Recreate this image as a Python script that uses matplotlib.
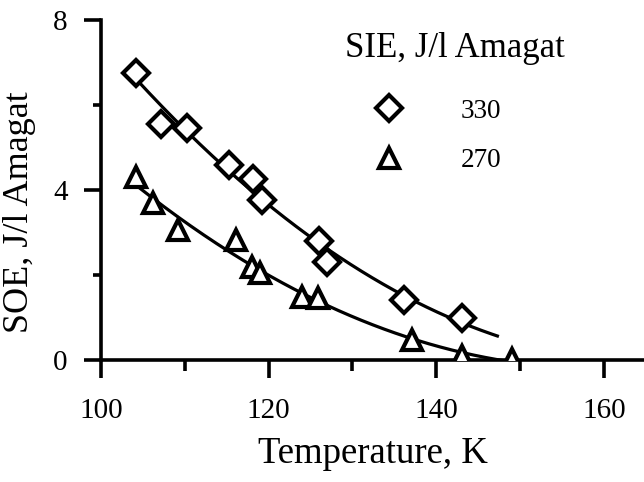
import numpy as np
import matplotlib
matplotlib.use("Agg")
import matplotlib.pyplot as plt

plt.rcParams['font.family'] = ['Liberation Serif', 'DejaVu Serif']

# Data (temperature K, SOE J/l Amagat)
t_330 = [104.2, 107.2, 110.3, 115.3, 118.1, 119.2, 126.0, 127.0, 136.1, 143.1]
soe_330 = [6.75, 5.55, 5.47, 4.59, 4.26, 3.76, 2.80, 2.31, 1.41, 0.99]
t_270 = [104.2, 106.2, 109.2, 116.1, 118.0, 119.0, 124.0, 125.9, 137.1, 143.1, 149.0]
soe_270 = [4.30, 3.69, 3.06, 2.82, 2.20, 2.05, 1.49, 1.45, 0.47, 0.10, 0.02]
fit_range_330 = (104.2, 147.3)
fit_range_270 = (104.4, 149.0)
series_labels = ['330', '270']
legend_title = 'SIE, J/l Amagat'

fig = plt.figure(figsize=(6.44, 4.82), dpi=100)
ax = fig.add_axes([0.157, 0.253, 0.843, 0.7055])

for t, s, rng in [(t_330, soe_330, fit_range_330), (t_270, soe_270, fit_range_270)]:
    c = np.polyfit(t, s, 2)
    xx = np.linspace(rng[0], rng[1], 200)
    ax.plot(xx, np.polyval(c, xx), color='black', lw=2.3, zorder=2)

ax.plot(t_330, soe_330, linestyle='none', marker='D', ms=13, mfc='white',
        mec='black', mew=3.0, label=series_labels[0], zorder=3)
ax.plot(t_270, soe_270, linestyle='none', marker='^', ms=15, mfc='white',
        mec='black', mew=3.0, label=series_labels[1], zorder=3)

ax.set_xlim(100, 164.8)
ax.set_ylim(0, 8)
ax.set_xticks([100, 120, 140, 160])
ax.set_xticks([110, 130, 150], minor=True)
ax.set_yticks([0, 4, 8])
ax.set_yticks([2, 6], minor=True)

for sp in ['top', 'right']:
    ax.spines[sp].set_visible(False)
for sp in ['left', 'bottom']:
    ax.spines[sp].set_linewidth(2.6)

ax.tick_params(axis='x', which='major', direction='out', length=13, width=2.6,
               pad=14, labelsize=21)
ax.tick_params(axis='x', which='minor', direction='out', length=8, width=2.6)
ax.tick_params(axis='y', which='major', direction='out', length=12, width=2.6,
               pad=12, labelsize=21)
ax.tick_params(axis='y', which='minor', direction='out', length=6, width=2.6)

ax.set_xlabel('Temperature, K', fontsize=26.5, labelpad=9)
ax.set_ylabel('SOE, J/l Amagat', fontsize=26, labelpad=12)
ax.yaxis.label.set_y(0.435)

ax.text(0.449, 0.891, legend_title, transform=ax.transAxes, fontsize=25,
        ha='left', va='baseline')
ax.legend(frameon=False, fontsize=19.5, loc='upper left',
          bbox_to_anchor=(0.505, 0.768), handlelength=1.0,
          handletextpad=2.15, labelspacing=0.9, borderpad=0,
          borderaxespad=0)

fig.savefig('out.png', dpi=100)
